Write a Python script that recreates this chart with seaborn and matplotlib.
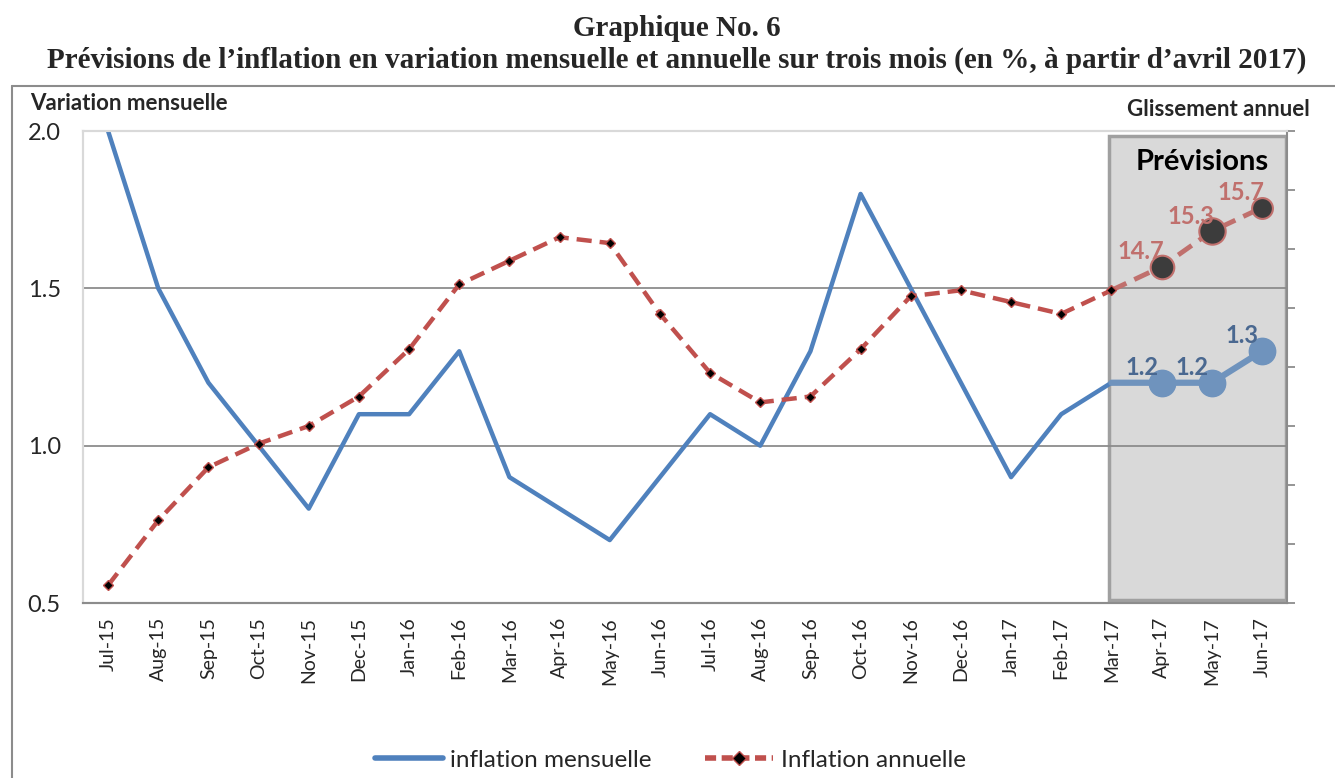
import numpy as np
import pandas as pd
import matplotlib
matplotlib.use("Agg")
import matplotlib.pyplot as plt
import seaborn as sns
from matplotlib.lines import Line2D
from matplotlib.patches import Rectangle

sns.set_theme(style="white")
plt.rcParams["font.family"] = ["Lato", "DejaVu Sans"]

# -----------------------------------
# Data
# -----------------------------------
months = ["Jul-15", "Aug-15", "Sep-15", "Oct-15", "Nov-15", "Dec-15",
          "Jan-16", "Feb-16", "Mar-16", "Apr-16", "May-16", "Jun-16",
          "Jul-16", "Aug-16", "Sep-16", "Oct-16", "Nov-16", "Dec-16",
          "Jan-17", "Feb-17", "Mar-17", "Apr-17", "May-17", "Jun-17"]

inflation_mensuelle = [2.0, 1.5, 1.2, 1.0, 0.8, 1.1, 1.1, 1.3, 0.9, 0.8, 0.7, 0.9,
                       1.1, 1.0, 1.3, 1.8, 1.5, 1.2, 0.9, 1.1, 1.2, 1.2, 1.2, 1.3]

inflation_annuelle = [9.3, 10.4, 11.3, 11.7, 12.0, 12.5, 13.3, 14.4, 14.8, 15.2, 15.1, 13.9,
                      12.9, 12.4, 12.5, 13.3, 14.2, 14.3, 14.1, 13.9, 14.3, 14.7, 15.3, 15.7]

# forecast segment starts from Mar-17 (index 20)
n_hist = 21

df = pd.DataFrame({
    "x": np.arange(len(months)),
    "mois": months,
    "mensuelle": inflation_mensuelle,
    "annuelle": inflation_annuelle,
})
hist = df.iloc[:n_hist]
prev = df.iloc[n_hist - 1:]

blue = "#4f81bd"
blue_prev = "#6f93bd"
red = "#c0504d"
red_prev = "#c0706d"
label_blue = "#4a6890"

# -----------------------------------
# Figure
# -----------------------------------
fig = plt.figure(figsize=(13.35, 7.78), dpi=100)
ax = fig.add_axes([83 / 1335, 1 - 603 / 778, (1287 - 83) / 1335, (603 - 131) / 778])
ax2 = ax.twinx()

# forecast box
ax.add_patch(Rectangle((19.95, 0.51), 23.48 - 19.95, 1.985 - 0.51,
                       facecolor="#d9d9d9", edgecolor="#a0a0a0", lw=2.5, zorder=0.5))

for y in [1.0, 1.5]:
    ax.axhline(y, color="#8c8c8c", lw=1.3, zorder=0.6)

# monthly inflation (left axis)
sns.lineplot(data=hist, x="x", y="mensuelle", ax=ax, color=blue, lw=3.2, zorder=3)
sns.lineplot(data=prev, x="x", y="mensuelle", ax=ax, color=blue_prev, lw=4.5, zorder=3)
ax.plot(prev["x"].iloc[1:], prev["mensuelle"].iloc[1:], "o", ms=19,
        color=blue_prev, zorder=4)

# annual inflation (right axis)
sns.lineplot(data=hist, x="x", y="annuelle", ax=ax2, color=red, lw=3.2, zorder=3)
ax2.lines[-1].set_dashes([3.4, 1.8])
ax2.plot(hist["x"], hist["annuelle"], "D", ms=5.5, mfc="black", mec=red, mew=1, zorder=4)
sns.lineplot(data=prev, x="x", y="annuelle", ax=ax2, color=red_prev, lw=3.5, zorder=3)
ax2.lines[-1].set_dashes([3.4, 1.8])
sizes = [17, 19, 15]
for (xi, yi), s in zip(zip(prev["x"].iloc[1:], prev["annuelle"].iloc[1:]), sizes):
    ax2.plot(xi, yi, "o", ms=s, mfc="#3c3c3c", mec=red_prev, mew=1.5, zorder=4)

# data labels
for xi, yi in zip(prev["x"].iloc[1:], prev["mensuelle"].iloc[1:]):
    ax.annotate(f"{yi:.1f}", (xi, yi), xytext=(-14, 11), textcoords="offset points",
                ha="center", va="center", fontsize=17, fontweight="bold",
                color=label_blue, zorder=5)
for xi, yi in zip(prev["x"].iloc[1:], prev["annuelle"].iloc[1:]):
    ax2.annotate(f"{yi:.1f}", (xi, yi), xytext=(-15, 11), textcoords="offset points",
                 ha="center", va="center", fontsize=17, fontweight="bold",
                 color=red_prev, zorder=5)

ax.text(21.8, 1.9, "Prévisions", ha="center", va="center", fontsize=21,
        fontweight="bold", color="black", zorder=5)

# axes
ax.set_xlim(-0.5, 23.5)
ax.set_ylim(0.5, 2.0)
ax.set_yticks([0.5, 1.0, 1.5, 2.0])
ax.set_yticklabels(["0.5", "1.0", "1.5", "2.0"], fontsize=17)
ax.set_xticks(df["x"])
ax.set_xticklabels(months, rotation=90, fontsize=14)
ax.set_xlabel("")
ax.set_ylabel("")
ax.tick_params(axis="x", length=0, pad=10)
ax.tick_params(axis="y", length=0, pad=16)

ax2.set_ylim(9, 17)
ax2.set_yticks(range(9, 18))
ax2.set_yticklabels([])
ax2.set_ylabel("")
ax2.tick_params(axis="y", direction="out", length=6, width=1.3, color="#8c8c8c", right=True)

for a in (ax, ax2):
    for side in ["left", "top"]:
        a.spines[side].set_color("#d9d9d9")
        a.spines[side].set_linewidth(1.5)
    a.spines["bottom"].set_color("#8c8c8c")
    a.spines["bottom"].set_linewidth(1.5)
    a.spines["right"].set_color("#8c8c8c")
    a.spines["right"].set_linewidth(1.5)
ax.spines["right"].set_visible(False)

# titles
fig.text(677 / 1335, 1 - 36 / 778, "Graphique No. 6", ha="center", va="baseline",
         fontsize=21, fontweight="bold", family="Liberation Serif")
fig.text(677 / 1335, 1 - 68 / 778,
         "Prévisions de l’inflation en variation mensuelle et annuelle sur trois mois (en %, à partir d’avril 2017)",
         ha="center", va="baseline", fontsize=21, fontweight="bold", family="Liberation Serif")
fig.text(30 / 1335, 1 - 104 / 778, "Variation mensuelle", ha="left", va="center",
         fontsize=16, fontweight="bold")
fig.text(1310 / 1335, 1 - 110 / 778, "Glissement annuel", ha="right", va="center",
         fontsize=16, fontweight="bold")

# outer frame
fig.add_artist(Line2D([12 / 1335, 12 / 1335], [0, 1 - 86 / 778], color="#8c8c8c",
                      lw=1.5, transform=fig.transFigure))
fig.add_artist(Line2D([12 / 1335, 1], [1 - 86 / 778, 1 - 86 / 778], color="#8c8c8c",
                      lw=1.5, transform=fig.transFigure))

# legend
handles = [
    Line2D([], [], color=blue, lw=4),
    Line2D([], [], color=red, lw=4, dashes=[2, 1], marker="D", ms=7,
           mfc="black", mec=red),
]
fig.legend(handles, ["inflation mensuelle", "Inflation annuelle"],
           loc="center", bbox_to_anchor=(0.502, 1 - 760 / 778), ncol=2,
           frameon=False, fontsize=17.5, handlelength=2.8, columnspacing=2.2,
           handletextpad=0.3)

fig.savefig("out.png", dpi=100)
